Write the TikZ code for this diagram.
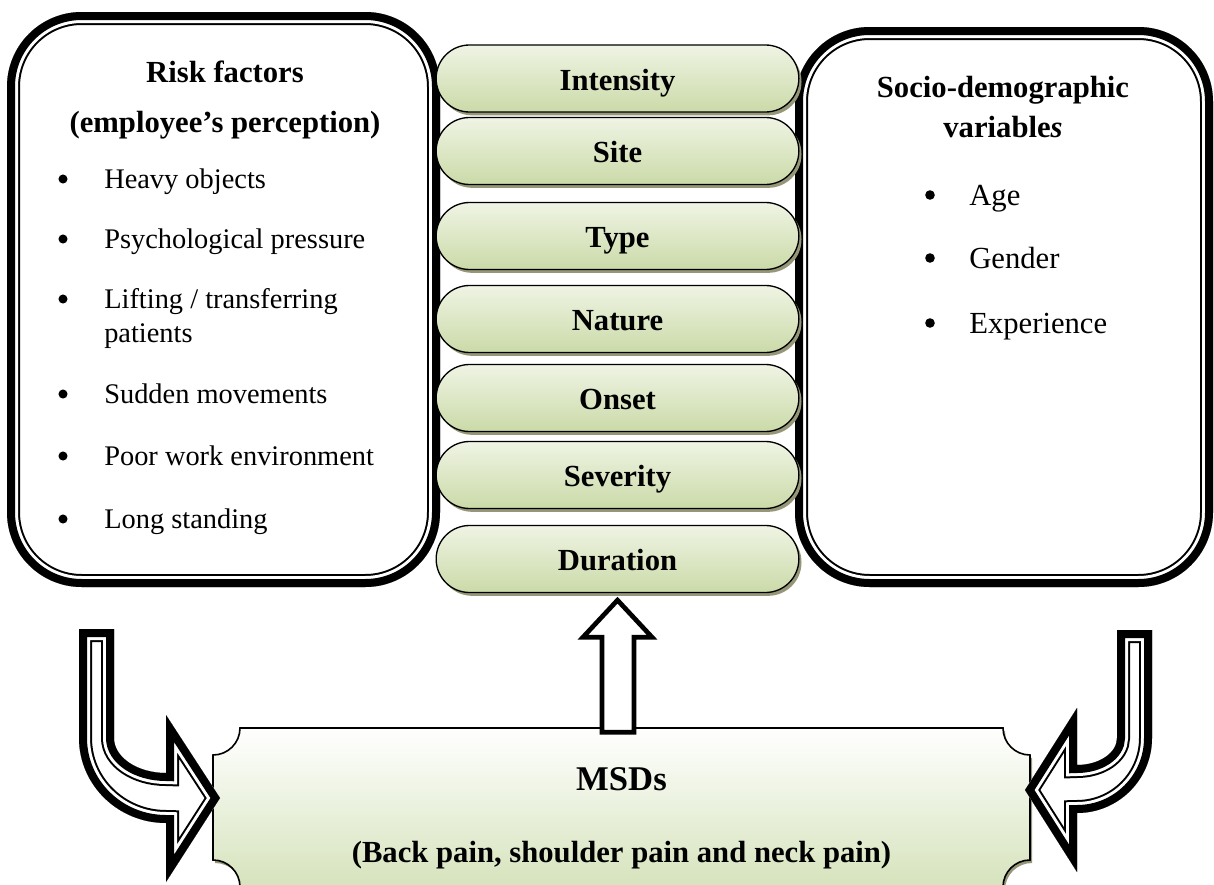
\documentclass[tikz,border=0pt]{standalone}
\usepackage{fontspec}
\setmainfont{Liberation Serif}
\usetikzlibrary{shadows}
\definecolor{pilltop}{RGB}{239,244,228}
\definecolor{pillbottom}{RGB}{203,218,168}
\definecolor{boxgreen}{RGB}{214,227,188}
\definecolor{shadowolive}{RGB}{150,150,120}
% thick outer line, white gap, thin inner line
\newcommand{\ttframe}[1]{%
  \begin{scope}
    \clip #1;
    \fill[white] #1;
    \draw[line width=19.5pt] #1;
    \draw[white, line width=16.5pt] #1;
    \draw[line width=12pt] #1;
  \end{scope}}
\begin{document}
\begin{tikzpicture}[x=0.75pt, y=0.75pt,
    pill/.style={draw, line width=1pt, rounded corners=25pt,
      minimum width=272pt, minimum height=50.25pt, inner sep=0pt,
      top color=pilltop, bottom color=pillbottom,
      drop shadow={shadow xshift=2pt, shadow yshift=-2.5pt, fill=shadowolive, opacity=1},
      font=\fontsize{23}{27}\selectfont\bfseries, text height=20.7pt, text depth=2.8pt},
    msdframe/.style={draw, line width=1.2pt, top color=white, bottom color=boxgreen,
      drop shadow={shadow xshift=1.5pt, shadow yshift=-2.25pt, fill=shadowolive, opacity=1}},
    uparrow/.style={draw, fill=white, line width=3.5pt, line join=miter},
    title/.style={font=\fontsize{23}{27}\selectfont\bfseries, inner sep=0pt},
    leftitem/.style={font=\fontsize{21.3}{25}\selectfont, inner sep=0pt},
    rightitem/.style={font=\fontsize{23}{27}\selectfont, inner sep=0pt},
    dot/.style={circle, fill, inner sep=0pt, minimum size=6.8pt}]
    \useasboundingbox (0,0) rectangle (1214,-885);
    % Draw the MSDs box with its cut corners
    \path[msdframe] (240,-728) -- (1003,-728)
      arc[start angle=180, end angle=270, radius=27] -- (1030,-860)
      arc[start angle=90, end angle=180, radius=27] -- (240,-887)
      arc[start angle=0, end angle=90, radius=27] -- (213,-755)
      arc[start angle=270, end angle=360, radius=27] -- cycle;
    \node[title, font=\fontsize{26}{30}\selectfont\bfseries, anchor=base] (msd) at (621.5,-790) {MSDs};
    \node[title, anchor=base] (pain) at (621.5,-862) {(Back pain, shoulder pain and neck pain)};
    % Draw the bent arrow on the left
    \ttframe{(79,-629) -- (79,-738)
      arc[start angle=180, end angle=270, x radius=87, y radius=85]
      -- (166,-882) -- (220,-798) -- (166,-715) -- (166,-773)
      arc[start angle=270, end angle=180, x radius=52, y radius=35]
      -- (114,-629) -- cycle}
    % Draw the bent arrow on the right
    \ttframe{(1152,-630) -- (1152,-738)
      arc[start angle=0, end angle=-90, x radius=75, y radius=75]
      -- (1077,-872) -- (1025,-790) -- (1077,-708) -- (1077,-765)
      arc[start angle=270, end angle=360, x radius=40, y radius=27]
      -- (1117,-630) -- cycle}
    % Draw the two side boxes
    \ttframe{[rounded corners=56pt] (7,-12) rectangle (440,-587)}
    \ttframe{[rounded corners=56pt] (795,-27) rectangle (1213,-587)}
    % Draw the pills in the middle
    \foreach \name/\txt/\yc in {int/Intensity/78.5, site/Site/151, type/Type/236,
        nat/Nature/319, ons/Onset/398, sev/Severity/475, dur/Duration/559}
      \node[pill] (\name) at (617.5,-\yc) {\txt};
    % Draw the arrow from MSDs up to the pills
    \path[uparrow] ([yshift=-5.25pt]dur.south) -- ++(34.5,-37) -- ++(-18,0)
      -- ++(0,-95) -- ++(-32,0) -- ++(0,95) -- ++(-19,0) -- cycle;
    % Left box text
    \node[title, anchor=base] (risk) at (225,-82) {Risk factors};
    \node[title, anchor=base] (perc) at (225,-132) {(employee’s perception)};
    \foreach \name/\txt/\yb in {heavy/Heavy objects/188, psych/Psychological pressure/248,
        lift/{Lifting / transferring}/308, sudden/Sudden movements/403,
        poor/Poor work environment/465, long/Long standing/528} {
      \node[dot] (\name dot) at (63,{9-\yb}) {};
      \node[leftitem, anchor=base west] (\name) at (104,-\yb) {\txt};
    }
    \node[leftitem, anchor=base west] (pat) at (104,-342) {patients};
    % Right box text
    \node[title, anchor=base] (socio) at (1003,-97) {Socio-demographic};
    \node[title, anchor=base] (vars) at (1003,-137) {variable\textit{s}};
    \foreach \name/\txt/\yb in {age/Age/205, gender/Gender/268, exp/Experience/333} {
      \node[dot, minimum size=7.2pt] (\name dot) at (930,{10-\yb}) {};
      \node[rightitem, anchor=base west] (\name) at (969,-\yb) {\txt};
    }
\end{tikzpicture}
\end{document}
